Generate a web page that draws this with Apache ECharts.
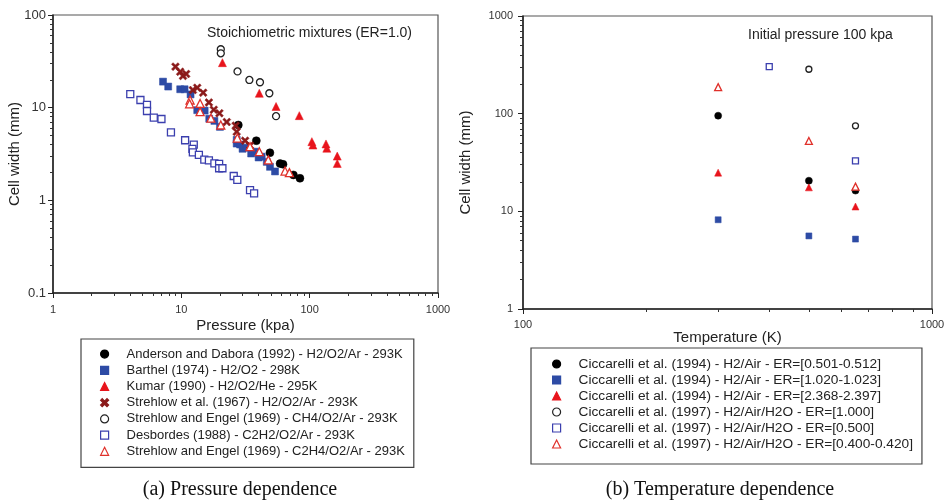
<!DOCTYPE html>
<html>
<head>
<meta charset="utf-8">
<script src="https://cdn.jsdelivr.net/npm/echarts@6/dist/echarts.min.js"></script>
<style>
  html, body { margin: 0; padding: 0; background: #fff; }
  #main { width: 948px; height: 504px; }
</style>
</head>
<body>
<div id="main"></div>
<script>
// tick labels
const pressureTicks = [1, 10, 100, 1000];
const widthTicksLeft = [0.1, 1, 10, 100];
const tempTicks = [100, 1000];
const widthTicksRight = [1, 10, 100, 1000];

// (a) pressure dependence, [pressure kPa, cell width mm]
const anderson = [[27.8, 6.5], [38.4, 4.4], [49, 3.26], [58.8, 2.49], [62, 2.45], [74.7, 1.88], [84, 1.73]];
const barthel = [[7.2, 19.1], [7.9, 16.9], [9.8, 15.8], [10.6, 15.8], [11.8, 13.9], [13.3, 9.4], [15.2, 9.3],
  [16.5, 7.6], [18.1, 7.2], [20, 6.2], [27, 4.5], [27, 4.1], [28.7, 4.0], [30, 3.6], [32.4, 3.7], [35, 3.2],
  [37.5, 3.35], [40, 2.9], [42.3, 2.96], [46.3, 2.6], [49.1, 2.3], [53.7, 2.05]];
const kumar = [[20.9, 30.6], [40.5, 14.3], [54.7, 10.3], [83, 8.2], [104, 4.3], [106, 3.95], [134, 4.06],
  [136, 3.65], [164, 3.0], [164, 2.5]];
const strehlow67 = [[9.0, 27.7], [9.8, 24.4], [10.3, 22], [10.9, 23.1], [12.3, 15.5], [13.3, 16.4], [14.8, 14.5],
  [16.4, 11.4], [17.9, 9.5], [19.8, 8.7], [22.6, 7.0], [26.5, 6.4], [27, 5.5], [31.4, 4.4], [34.3, 3.9]];
const engelCH4 = [[20.3, 42.7], [20.3, 38.6], [27.4, 24.6], [33.9, 19.9], [41, 18.8], [48.5, 14.3], [54.7, 8.1]];
const desbordes = [[4.0, 14], [4.8, 12.1], [5.4, 10.7], [5.4, 9.2], [6.1, 7.8], [7.0, 7.55], [8.3, 5.4],
  [10.7, 4.45], [12.5, 4.0], [12.2, 3.6], [12.3, 3.3], [13.7, 3.1], [15.1, 2.75], [16.4, 2.7], [18.1, 2.5],
  [19.7, 2.47], [19.7, 2.22], [20.9, 2.22], [25.6, 1.83], [27.3, 1.66], [34.3, 1.29], [36.9, 1.19]];
const engelC2H4 = [[11.7, 12.1], [11.6, 11.0], [14, 11.1], [14, 9.05], [17, 7.7], [20.3, 6.5], [27.3, 4.7],
  [34.3, 3.8], [40.5, 3.35], [47.6, 2.73], [64.3, 2.07], [69.5, 1.99]];

// (b) temperature dependence, [temperature K, cell width mm]
const cic94a = [[300, 95.4], [500, 20.6], [650, 16.3]];
const cic94b = [[300, 8.2], [500, 5.6], [650, 5.2]];
const cic94c = [[300, 24.9], [500, 17.6], [650, 11.2]];
const cic97a = [[500, 285], [650, 75]];
const cic97b = [[400, 303], [650, 32.8]];
const cic97c = [[300, 187], [500, 52.6], [650, 17.9]];

const FONT = '"Liberation Sans", Arial, sans-serif';
const CROSS = 'path://M0,2L2,0L5,3L8,0L10,2L7,5L10,8L8,10L5,7L2,10L0,8L3,5Z';

// 2..9 between each pair of decades
const minorTicks = decades => {
  const out = [];
  for (let i = 0; i < decades.length - 1; i++) {
    for (let k = 2; k <= 9; k++) out.push(+(decades[i] * k).toPrecision(3));
  }
  return out;
};

const fmt = v => String(+(+v).toPrecision(3));

const majorAxis = (grid, ticks, pos, margin, labelSize, name, nameGap) => ({
  type: 'log', logBase: 10, gridIndex: grid,
  min: ticks[0], max: ticks[ticks.length - 1], position: pos,
  axisLine: { show: true, onZero: false, lineStyle: { color: '#222', width: 1.5 } },
  axisTick: { show: true, customValues: ticks, length: 5, lineStyle: { color: '#222', width: 1 } },
  axisLabel: { customValues: ticks, margin: margin, color: '#333', fontSize: labelSize, fontFamily: FONT, formatter: fmt },
  splitLine: { show: false },
  name: name, nameLocation: 'middle', nameGap: nameGap, nameMoveOverlap: false,
  nameTextStyle: { color: '#222', fontSize: 15, fontFamily: FONT }
});

const minorAxis = (grid, ticks, pos) => ({
  type: 'log', logBase: 10, gridIndex: grid,
  min: ticks[0], max: ticks[ticks.length - 1], position: pos,
  axisLine: { show: false },
  axisTick: { show: true, customValues: minorTicks(ticks), length: 3, lineStyle: { color: '#333', width: 1 } },
  axisLabel: { show: false },
  splitLine: { show: false }
});

const scatter = (name, data, axis, symbol, size, color, open) => ({
  name, type: 'scatter', data,
  xAxisIndex: axis, yAxisIndex: axis,
  symbol, symbolSize: size,
  itemStyle: open
    ? { color: '#fff', borderColor: color, borderWidth: 1.3, opacity: 1 }
    : { color: color, borderColor: color, borderWidth: 0.5, opacity: 1 },
  emphasis: { disabled: true }
});

const chart = echarts.init(document.getElementById('main'));

const legendBase = {
  orient: 'vertical', itemWidth: 8, itemHeight: 8, itemGap: 0,
  selectedMode: false,
  backgroundColor: '#fff', borderColor: '#444', borderWidth: 1.2, borderRadius: 0,
  itemStyle: { borderWidth: 1.2 }
};

chart.setOption({
  animation: false,
  backgroundColor: '#fff',
  grid: [
    { left: 53, top: 15, width: 385, height: 278, show: true, borderColor: '#555', borderWidth: 1.2, outerBoundsMode: 'none' },
    { left: 523, top: 16, width: 409, height: 293, show: true, borderColor: '#555', borderWidth: 1.2, outerBoundsMode: 'none' }
  ],
  xAxis: [
    majorAxis(0, pressureTicks, 'bottom', 11, 11, 'Pressure (kpa)', 25),
    minorAxis(0, pressureTicks, 'bottom'),
    majorAxis(1, tempTicks, 'bottom', 10, 11, 'Temperature (K)', 21),
    minorAxis(1, tempTicks, 'bottom')
  ],
  yAxis: [
    majorAxis(0, widthTicksLeft, 'left', 7, 13, 'Cell width (mm)', 31),
    minorAxis(0, widthTicksLeft, 'left'),
    majorAxis(1, widthTicksRight, 'left', 10, 11, 'Cell width (mm)', 50),
    minorAxis(1, widthTicksRight, 'left')
  ],
  legend: [
    Object.assign({}, legendBase, {
      left: 81, top: 339, padding: [7, 9, 8, 19],
      textStyle: { fontSize: 13, lineHeight: 16.2, color: '#222', fontFamily: FONT, padding: [0, 0, 0, 13] },
      data: [
        'Anderson and Dabora (1992) - H2/O2/Ar - 293K',
        'Barthel (1974) - H2/O2 - 298K',
        'Kumar (1990) - H2/O2/He - 295K',
        'Strehlow et al. (1967) - H2/O2/Ar - 293K',
        'Strehlow and Engel (1969) - CH4/O2/Ar - 293K',
        'Desbordes (1988) - C2H2/O2/Ar - 293K',
        'Strehlow and Engel (1969) - C2H4/O2/Ar - 293K'
      ]
    }),
    Object.assign({}, legendBase, {
      left: 531, top: 348, padding: [8, 9, 12, 21],
      textStyle: { fontSize: 13.7, lineHeight: 16, color: '#222', fontFamily: FONT, padding: [0, 0, 0, 13] },
      data: [
        'Ciccarelli et al. (1994) - H2/Air - ER=[0.501-0.512]',
        'Ciccarelli et al. (1994) - H2/Air - ER=[1.020-1.023]',
        'Ciccarelli et al. (1994) - H2/Air - ER=[2.368-2.397]',
        'Ciccarelli et al. (1997) - H2/Air/H2O - ER=[1.000]',
        'Ciccarelli et al. (1997) - H2/Air/H2O - ER=[0.500]',
        'Ciccarelli et al. (1997) - H2/Air/H2O - ER=[0.400-0.420]'
      ]
    })
  ],
  graphic: [
    { type: 'text', x: 207, y: 33, style: { text: 'Stoichiometric mixtures (ER=1.0)', fill: '#222', font: '14px ' + FONT, textAlign: 'left', textVerticalAlign: 'middle' } },
    { type: 'text', x: 748, y: 35, style: { text: 'Initial pressure 100 kpa', fill: '#222', font: '14px ' + FONT, textAlign: 'left', textVerticalAlign: 'middle' } },
    { type: 'text', x: 240, y: 490, style: { text: '(a) Pressure dependence', fill: '#111', font: '20px "Liberation Serif", "Times New Roman", serif', textAlign: 'center', textVerticalAlign: 'middle' } },
    { type: 'text', x: 720, y: 490, style: { text: '(b) Temperature dependence', fill: '#111', font: '20px "Liberation Serif", "Times New Roman", serif', textAlign: 'center', textVerticalAlign: 'middle' } }
  ],
  series: [
    scatter('Anderson and Dabora (1992) - H2/O2/Ar - 293K', anderson, 0, 'circle', 8, '#000', false),
    scatter('Barthel (1974) - H2/O2 - 298K', barthel, 0, 'rect', 7, '#2d4ba5', false),
    scatter('Kumar (1990) - H2/O2/He - 295K', kumar, 0, 'triangle', 8, '#e8141c', false),
    scatter('Strehlow et al. (1967) - H2/O2/Ar - 293K', strehlow67, 0, CROSS, 8, '#8b1a1a', false),
    scatter('Strehlow and Engel (1969) - CH4/O2/Ar - 293K', engelCH4, 0, 'circle', 7, '#222', true),
    scatter('Desbordes (1988) - C2H2/O2/Ar - 293K', desbordes, 0, 'rect', 7, '#3b3fae', true),
    scatter('Strehlow and Engel (1969) - C2H4/O2/Ar - 293K', engelC2H4, 0, 'triangle', 8, '#e0302a', true),

    scatter('Ciccarelli et al. (1994) - H2/Air - ER=[0.501-0.512]', cic94a, 2, 'circle', 7, '#000', false),
    scatter('Ciccarelli et al. (1994) - H2/Air - ER=[1.020-1.023]', cic94b, 2, 'rect', 6, '#2d4ba5', false),
    scatter('Ciccarelli et al. (1994) - H2/Air - ER=[2.368-2.397]', cic94c, 2, 'triangle', 7, '#e8141c', false),
    scatter('Ciccarelli et al. (1997) - H2/Air/H2O - ER=[1.000]', cic97a, 2, 'circle', 6, '#222', true),
    scatter('Ciccarelli et al. (1997) - H2/Air/H2O - ER=[0.500]', cic97b, 2, 'rect', 6, '#3b3fae', true),
    scatter('Ciccarelli et al. (1997) - H2/Air/H2O - ER=[0.400-0.420]', cic97c, 2, 'triangle', 7, '#e0302a', true)
  ]
});
</script>
</body>
</html>
